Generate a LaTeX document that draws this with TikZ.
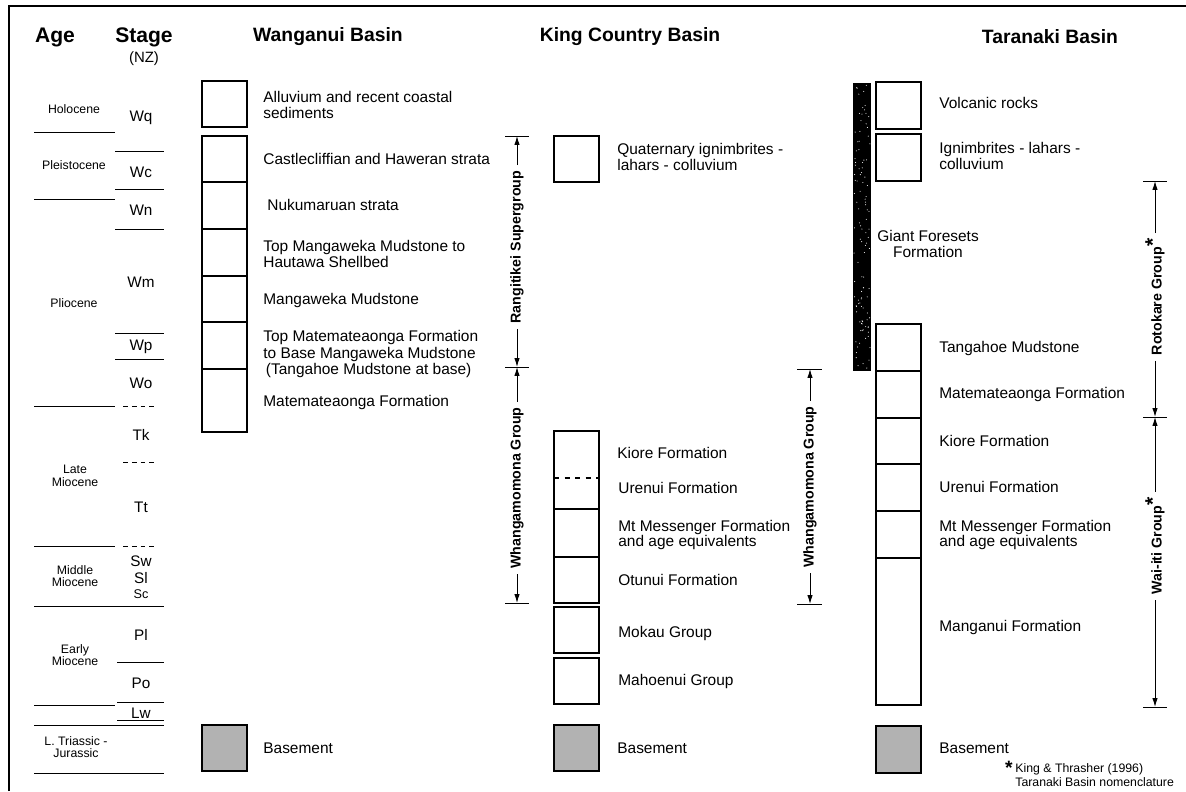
\documentclass[tikz,border=0pt]{standalone}
\usepackage{fontspec}
\setmainfont{Liberation Sans}
\usetikzlibrary{arrows.meta}

\begin{document}
\begin{tikzpicture}[
	x = 0.02cm, y = -0.02cm,
	every node/.style = {inner sep = 0pt},
	head/.style = {font = \fontsize{12}{14}\selectfont\bfseries},
	basin/.style = {font = \fontsize{11}{13}\selectfont\bfseries},
	txt/.style = {anchor = west, align = left, font = \fontsize{8.8}{8.6}\selectfont},
	stg/.style = {font = \fontsize{8.7}{10}\selectfont},
	epoch/.style = {align = center, font = \fontsize{7}{7.2}\selectfont},
	grp/.style = {rotate = 90, inner sep = 3pt, font = \fontsize{8.1}{10}\selectfont\bfseries},
	unit/.style = {draw, line width = 0.6pt},
	basement/.style = {unit, fill = black!30},
	rule/.style = {line width = 0.5pt},
	grpspan/.style = {-{Latex[length = 5pt, width = 3pt]}, line width = 0.5pt}
]

\useasboundingbox (0, 0) rectangle (1186, 791);
\draw[line width = 1.1pt] (9, 791) -- (9, 6) -- (1186, 6);

\node[head] (age) at (55, 37) {Age};
\node[head] (stage) at (144, 37) {Stage};
\node[font = \fontsize{8.5}{10}\selectfont] (nz) at (144, 59) {(NZ)};
\node[basin] (wang) at (328, 37) {Wanganui Basin};
\node[basin] (king) at (630, 37) {King Country Basin};
\node[basin] (tara) at (1050, 37) {Taranaki Basin};

\foreach \y in {132, 199, 406, 546, 705}
	\draw[rule] (34, \y) -- (115, \y);
\foreach \y in {606, 725, 773}
	\draw[rule] (34, \y) -- (164, \y);
\foreach \y in {151, 189, 229, 333, 359}
	\draw[rule] (115, \y) -- (164, \y);
\foreach \y in {662, 702, 720}
	\draw[rule] (117, \y) -- (164, \y);
\foreach \y in {406, 462, 546}
	\draw[rule, dash pattern = on 2.8pt off 2.2pt] (123, \y) -- (155, \y);

\node[epoch] (holo) at (74, 109) {Holocene};
\node[epoch] (pleis) at (74, 165) {Pleistocene};
\node[epoch] (plio) at (74, 303) {Pliocene};
\node[epoch] (latemio) at (75, 476) {Late\\Miocene};
\node[epoch] (midmio) at (75, 576) {Middle\\Miocene};
\node[epoch] (earlymio) at (75, 655) {Early\\Miocene};
\node[epoch] (trias) at (76, 747) {L. Triassic -\\Jurassic};

\foreach \s/\y in {Wq/118, Wc/172, Wn/210, Wm/282, Wp/347, Wo/383, Tk/435, Tt/507, Sw/561, Sl/578, Pl/635, Po/683, Lw/713}
	\node[stg] (st\s) at (141, \y) {\s};
\node[stg, font = \fontsize{7.2}{8}\selectfont] (stSc) at (141, 594) {Sc};

\foreach \t/\b in {81/127, 136/182, 182/229, 229/276, 276/322, 322/369, 369/432}
	\draw[unit] (202, \t) rectangle (247, \b);
\draw[basement] (202, 725) rectangle (247, 771);

\node[txt] (wg1) at (263, 105) {Alluvium and recent coastal\\sediments};
\node[txt] (wg2) at (263, 159) {Castlecliffian and Haweran strata};
\node[txt] (wg3) at (267, 205) {Nukumaruan strata};
\node[txt] (wg4) at (263, 254) {Top Mangaweka Mudstone to\\Hautawa Shellbed};
\node[txt] (wg5) at (263, 300) {Mangaweka Mudstone};
\node[txt, font = \fontsize{8.8}{7.8}\selectfont] (wg6) at (263, 354) {Top Matemateaonga Formation\\to Base Mangaweka Mudstone\\\hspace{1.5pt}(Tangahoe Mudstone at base)};
\node[txt] (wg7) at (263, 402) {Matemateaonga Formation};
\node[txt] (wgbase) at (263, 748) {Basement};

\foreach \t/\b in {136/182, 431/509, 509/557, 557/603, 607/653, 658/704}
	\draw[unit] (554, \t) rectangle (599, \b);
\draw[unit, dashed] (554, 478) -- (599, 478);
\draw[basement] (554, 725) rectangle (599, 771);

\node[txt] (kc1) at (617, 157) {Quaternary ignimbrites -\\lahars - colluvium};
\node[txt] (kc2) at (617, 453) {Kiore Formation};
\node[txt] (kc3) at (618, 488) {Urenui Formation};
\node[txt] (kc4) at (618, 535) {Mt Messenger Formation\\and age equivalents};
\node[txt] (kc5) at (618, 580) {Otunui Formation};
\node[txt] (kc6) at (618, 633) {Mokau Group};
\node[txt] (kc7) at (618, 681) {Mahoenui Group};
\node[txt] (kcbase) at (617, 748) {Basement};

\fill (853, 83) rectangle (871, 371);
\pgfmathsetseed{3}
\foreach \i in {1, ..., 110}
	\fill[white] (862 + 8 * rand, 227 + 142 * rand) circle (0.3pt);

\foreach \t/\b in {82/129, 134/181, 324/371, 371/418, 418/464, 464/511, 511/558, 558/705}
	\draw[unit] (876, \t) rectangle (921, \b);
\draw[basement] (876, 726) rectangle (921, 773);

\node[txt] (tb1) at (939, 103) {Volcanic rocks};
\node[txt] (tb2) at (939, 156) {Ignimbrites - lahars -\\colluvium};
\node[txt] (tb3) at (877, 244) {Giant Foresets\\\hspace{9pt}Formation};
\node[txt] (tb4) at (939, 348) {Tangahoe Mudstone};
\node[txt] (tb5) at (939, 394) {Matemateaonga Formation};
\node[txt] (tb6) at (939, 441) {Kiore Formation};
\node[txt] (tb7) at (939, 487) {Urenui Formation};
\node[txt] (tb8) at (939, 535) {Mt Messenger Formation\\and age equivalents};
\node[txt] (tb9) at (939, 627) {Manganui Formation};
\node[txt] (tbbase) at (939, 748) {Basement};
\node[txt, font = \fontsize{7}{7.9}\selectfont] (note) at (1015, 775) {King \& Thrasher (1996)\\Taranaki Basin nomenclature};
\node[anchor = north east, font = \fontsize{11}{11}\selectfont\bfseries] (notestar) at (1013, 761) {*};

\coordinate (rngtop) at (517, 136);
\coordinate (rngbot) at (517, 367);
\coordinate (whw1bot) at (517, 603);
\coordinate (whk1top) at (810, 369);
\coordinate (whk1bot) at (810, 604);
\coordinate (rtktop) at (1155, 181);
\coordinate (rtkbot) at (1155, 417);
\coordinate (waibot) at (1155, 707);

\node[grp] (rng) at (517, 247) {Rangitikei Supergroup};
\node[grp] (whw) at (517, 488) {Whangamomona Group};
\node[grp] (whk) at (810, 487) {Whangamomona Group};
\node[grp] (rtk) at (1155, 297) {Rotokare Group\raisebox{1pt}{\fontsize{12}{12}\selectfont *}};
\node[grp] (wai) at (1155, 546) {Wai-iti Group\raisebox{1pt}{\fontsize{12}{12}\selectfont *}};

\draw[grpspan] (rng.east) -- (rngtop);
\draw[grpspan] (rng.west) -- (rngbot);
\draw[grpspan] (whw.east) -- (rngbot);
\draw[grpspan] (whw.west) -- (whw1bot);
\draw[grpspan] (whk.east) -- (whk1top);
\draw[grpspan] (whk.west) -- (whk1bot);
\draw[grpspan] (rtk.east) -- (rtktop);
\draw[grpspan] (rtk.west) -- (rtkbot);
\draw[grpspan] (wai.east) -- (rtkbot);
\draw[grpspan] (wai.west) -- (waibot);

\foreach \y in {136, 367, 603}
	\draw[rule] (505, \y) -- (529, \y);
\foreach \y in {369, 604}
	\draw[rule] (797, \y) -- (822, \y);
\foreach \y in {181, 417, 707}
	\draw[rule] (1143, \y) -- (1167, \y);
\end{tikzpicture}
\end{document}
